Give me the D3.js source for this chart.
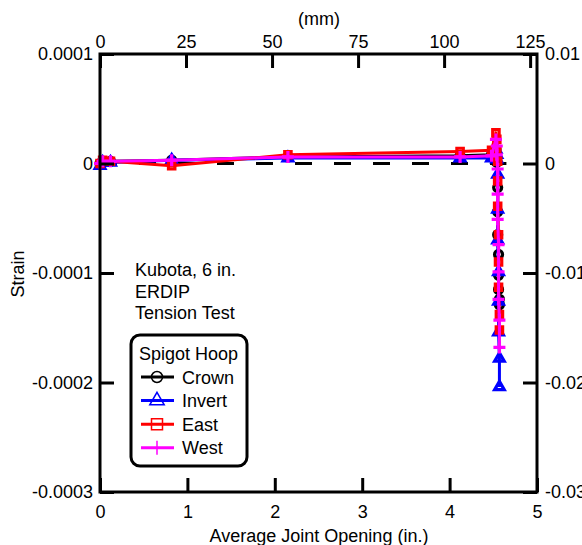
<!DOCTYPE html>
<html>
<head>
<meta charset="utf-8">
<script src="https://cdn.jsdelivr.net/npm/d3@7"></script>
<style>
  body { margin: 0; background: #fff; }
  text { font-family: "Liberation Sans", Arial, sans-serif; }
</style>
</head>
<body>
<div id="chart"></div>
<script>
// Average joint opening (in.) - shared by all four gauges
var opening = [0, 0.03, 0.12, 0.82, 2.15, 4.12, 4.48,
  4.53, 4.54, 4.54, 4.55, 4.55, 4.55, 4.56, 4.56, 4.56, 4.57, 4.57];

// spigot hoop strain, in microstrain (x 1e-6)
var crown  = [0, 1, 2, 3, 6, 7, 8,   13, 5, 1, -22, -44, -65, -83, -102, -115, -124, -129];
var invert = [-2, 1, 1, 3, 5, 5, 5,  13, 8, 4, -10, -42, -70, -99, -126, -154, -178, -204];
var east   = [0, 3, 2, -2, 8, 11, 12, 28, 22, 11, 2, -16, -39, -65, -90, -113, -138, -152];
var west   = [0, 2, 2, 3, 6, 6, 7,   22, 16, 8, -5, -28, -51, -74, -99, -124, -143, -168];

var seriesNames = ["Crown", "Invert", "East", "West"];
var seriesColors = ["#000000", "#0000ff", "#ff0000", "#ff00ff"];
var seriesMarks = ["circle", "triangle", "square", "plus"];

var inchTicks = [0, 1, 2, 3, 4, 5];
var mmTicks = [0, 25, 50, 75, 100, 125];
var strainTicks = [0.0001, 0, -0.0001, -0.0002, -0.0003];
var strainLabels = ["0.0001", "0", "-0.0001", "-0.0002", "-0.0003"];
var rightTicks = [0.01, 0, -0.01, -0.02, -0.03];
var rightLabels = ["0.01", "0", "-0.01", "-0.02", "-0.03"];

var noteLines = ["Kubota, 6 in.", "ERDIP", "Tension Test"];

var margin = {top: 54, right: 45, bottom: 53, left: 100},
    width = 582 - margin.left - margin.right,
    height = 545 - margin.top - margin.bottom;

var svg = d3.select("#chart").append("svg")
    .attr("width", 582).attr("height", 545);
var g = svg.append("g")
    .attr("transform", "translate(" + margin.left + "," + margin.top + ")");

var x = d3.scaleLinear().domain([0, 5]).range([0, width]);
var xmm = d3.scaleLinear().domain([0, 127]).range([0, width]);
var y = d3.scaleLinear().domain([-0.0003, 0.0001]).range([height, 0]);
var yr = d3.scaleLinear().domain([-0.03, 0.01]).range([height, 0]);

// marker shapes
function markPath(type, s) {
  if (type == "plus") return "M" + (-s) + ",0H" + s + "M0," + (-s) + "V" + s;
  var sym = {circle: d3.symbolCircle, triangle: d3.symbolTriangle, square: d3.symbolSquare}[type];
  var area = {circle: Math.PI * s * s, triangle: s * s * 1.6, square: 4 * s * s}[type];
  return d3.symbol(sym, area)();
}

// zero line
g.append("line")
  .attr("x1", x(0)).attr("x2", x(4.65))
  .attr("y1", y(0)).attr("y2", y(0))
  .style("stroke", "black").style("stroke-width", 3)
  .style("stroke-dasharray", "17,22");

// series
var series = [crown, invert, east, west].map(function(vals, i) {
  return {
    name: seriesNames[i], color: seriesColors[i], mark: seriesMarks[i],
    pts: vals.map(function(v, j) { return [opening[j], v * 1e-6]; })
  };
});

var line = d3.line().x(function(d) { return x(d[0]); }).y(function(d) { return y(d[1]); });

series.forEach(function(s) {
  var sg = g.append("g");
  sg.append("path")
    .attr("d", line(s.pts))
    .style("fill", "none").style("stroke", s.color).style("stroke-width", 3)
    .style("stroke-linejoin", "round");
  var size = {circle: 4, triangle: 5, square: 3.2, plus: 6}[s.mark];
  sg.selectAll("path.m").data(s.pts).enter().append("path")
    .attr("class", "m")
    .attr("transform", function(d) { return "translate(" + x(d[0]) + "," + y(d[1]) + ")"; })
    .attr("d", markPath(s.mark, size))
    .style("fill", "none").style("stroke", s.color).style("stroke-width", 3.2);
});

// axes
function styleAxis(a) {
  a.select(".domain").remove();
  a.selectAll(".tick line").style("stroke", "black").style("stroke-width", 3);
  a.selectAll(".tick text").style("font-size", "18px").style("font-family", "'Liberation Sans', Arial, sans-serif").attr("fill", "black");
}

g.append("g").attr("transform", "translate(0," + height + ")")
  .call(d3.axisBottom(x).tickValues(inchTicks).tickFormat(d3.format("d"))
    .tickSizeInner(-14).tickSizeOuter(0).tickPadding(13))
  .call(styleAxis);
g.append("g")
  .call(d3.axisTop(xmm).tickValues(mmTicks).tickFormat(d3.format("d"))
    .tickSizeInner(-14).tickSizeOuter(0).tickPadding(6))
  .call(styleAxis);
g.append("g")
  .call(d3.axisLeft(y).tickValues(strainTicks).tickFormat(function(d, i) { return strainLabels[i]; })
    .tickSizeInner(-14).tickSizeOuter(0).tickPadding(7))
  .call(styleAxis);
g.append("g").attr("transform", "translate(" + width + ",0)")
  .call(d3.axisRight(yr).tickValues(rightTicks).tickFormat(function(d, i) { return rightLabels[i]; })
    .tickSizeInner(-14).tickSizeOuter(0).tickPadding(8))
  .call(styleAxis);

// frame
g.append("rect").attr("width", width).attr("height", height)
  .style("fill", "none").style("stroke", "black").style("stroke-width", 3);

// axis titles
svg.append("text").attr("x", 319).attr("y", 542).attr("text-anchor", "middle")
  .style("font-size", "18px").text("Average Joint Opening (in.)");
svg.append("text").attr("x", 319).attr("y", 25).attr("text-anchor", "middle")
  .style("font-size", "18px").text("(mm)");
svg.append("text").attr("transform", "translate(24,274) rotate(-90)").attr("text-anchor", "middle")
  .style("font-size", "18px").text("Strain");

// note
g.append("g").selectAll("text").data(noteLines).enter().append("text")
  .attr("x", 35).attr("y", function(d, i) { return 222 + i * 21.5; })
  .style("font-size", "18px").text(function(d) { return d; });

// legend
var lg = svg.append("g").attr("transform", "translate(131,335)");
lg.append("rect").attr("width", 116).attr("height", 131).attr("rx", 9)
  .style("fill", "white").style("stroke", "black").style("stroke-width", 3);
lg.append("text").attr("x", 8).attr("y", 25).style("font-size", "18px").text("Spigot Hoop");
series.forEach(function(s, i) {
  var yy = 42 + i * 23.6;
  lg.append("line").attr("x1", 10).attr("x2", 43).attr("y1", yy).attr("y2", yy)
    .style("stroke", s.color).style("stroke-width", 3);
  var size = {circle: 5.5, triangle: 7.5, square: 5.5, plus: 7}[s.mark];
  lg.append("path").attr("transform", "translate(26," + yy + ")")
    .attr("d", markPath(s.mark, size))
    .style("fill", "none").style("stroke", s.color).style("stroke-width", 1.5);
  lg.append("text").attr("x", 51).attr("y", yy + 6.5).style("font-size", "18px").text(s.name);
});
</script>
</body>
</html>
